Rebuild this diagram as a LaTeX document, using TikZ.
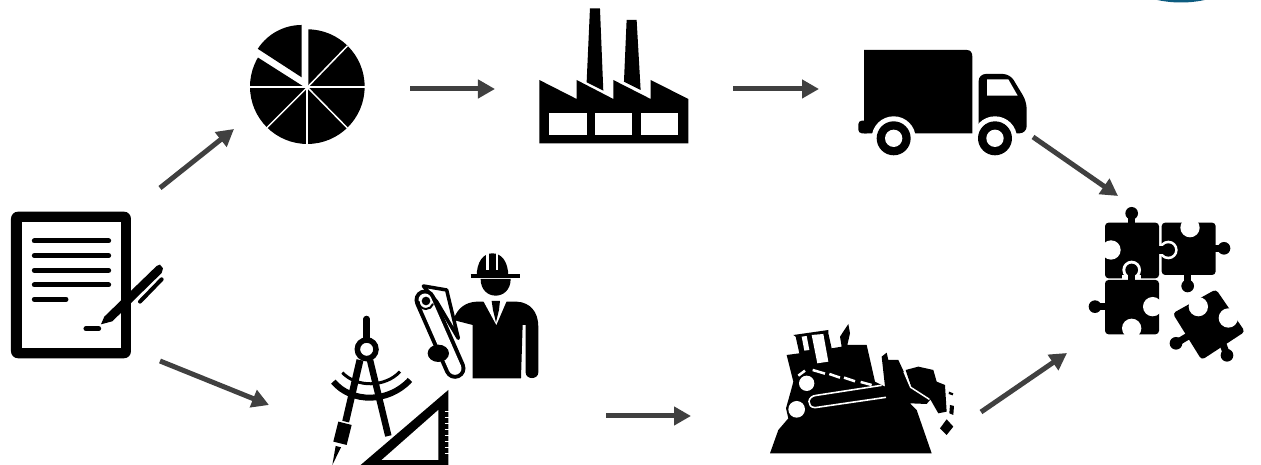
\documentclass[tikz,border=0pt]{standalone}
\usetikzlibrary{arrows.meta}
\definecolor{ArrowClr}{rgb}{0.25,0.25,0.25}
\definecolor{LogoClr}{rgb}{0.05,0.36,0.5}
\tikzset{
  flowarrow/.style={draw=ArrowClr,line width=.05cm,-{Triangle[length=.17cm,width=.18cm]}},
  icon/.style={fill=black},
  cutout/.style={fill=white},
  iconline/.style={draw=black,line cap=round},
  cutline/.style={draw=white},
  piece/.style={fill=black,rounded corners=1pt},
}

\begin{document}
\begin{tikzpicture}[x=.01cm,y=-.01cm]
\clip (0,0) rectangle (1261,465);
\fill[white] (0,0) rectangle (1261,465);

% logo rest at the top
\fill[LogoClr] (1181,-40) ellipse [x radius=70,y radius=42.5];

% document
\begin{scope}[shift={(0,190)},scale=.3333]
\fill[icon,rounded corners=2pt] (33,65) rectangle (393,505);
\fill[cutout] (65,95) rectangle (363,475);
\foreach \y in {153,197,241,285}
  \draw[iconline,line width=.05cm] (103,\y) -- (326,\y);
\draw[iconline,line width=.05cm] (103,328) -- (198,328);
\draw[iconline,line width=.05cm] (258,416) -- (296,416);
\fill[icon] (303,403) -- (313,380) -- (470,228) -- (480,224) -- (489,235) -- (485,249) -- (337,394) -- (318,399) -- cycle;
\draw[iconline,line width=.04cm] (420,335) -- (485,268);
\end{scope}

% pie
\begin{scope}[shift={(230,0)},scale=.3333]
\fill[icon] (232,260) circle [radius=172];
\fill[cutout] (235,262) -- (235,60) -- (30,60) -- (30,138) -- (222,260) -- cycle;
\draw[cutline,line width=.018cm] (55,262) -- (410,262);
\draw[cutline,line width=.018cm] (232,262) -- (232,436);
\foreach \x/\y in {352/138,352/384,110/384}
  \draw[cutline,line width=.015cm] (232,262) -- (\x,\y);
\fill[icon] (215,232) -- (215,75) arc [start angle=-90,end angle=-147,radius=157] -- cycle;
\end{scope}

% factory
\begin{scope}[shift={(230,0)},scale=.3333]
\fill[icon] (928,430) -- (928,240) -- (1040,297) -- (1040,240) -- (1150,297) -- (1150,240) -- (1262,297) -- (1262,240) -- (1375,297) -- (1375,430) -- cycle;
\foreach \x in {958,1095,1232}
  \fill[cutout] (\x,340) rectangle +(112,65);
\fill[icon] (1080,25) -- (1110,25) -- (1120,272) -- (1070,247) -- cycle;
\fill[icon] (1190,60) -- (1220,60) -- (1232,270) -- (1182,245) -- cycle;
\end{scope}

% truck
\begin{scope}[shift={(840,0)},scale=.3333]
\fill[icon] (72,150) -- (380,150) .. controls (392,150) and (397,158) .. (397,170) -- (397,400) -- (72,400) -- cycle;
\fill[icon,rounded corners=1pt] (55,400) rectangle (90,362);
\fill[icon,rounded corners=2pt] (416,222) -- (510,222) -- (560,305) -- (560,400) -- (416,400) -- cycle;
\fill[cutout] (441,238) -- (505,238) -- (533,287) -- (441,287) -- cycle;
\foreach \x in {161,465} {
  \fill[cutout] (\x,415) circle [radius=66];
  \fill[icon] (\x,415) circle [radius=51];
  \fill[cutout] (\x,415) circle [radius=26];
}
\end{scope}

% engineer
\begin{scope}[shift={(320,245)},scale=.3333]
\fill[icon] (470,95) .. controls (470,50) and (490,25) .. (517,25) .. controls (545,25) and (565,50) .. (565,95) -- cycle;
\draw[cutline,line width=.025cm] (503,24) -- (503,76);
\draw[cutline,line width=.025cm] (531,24) -- (531,76);
\draw[draw=black,line width=.04cm] (452,93) -- (600,93);
\fill[icon] (482,102) -- (572,102) .. controls (572,135) and (550,152) .. (527,152) .. controls (504,152) and (482,135) .. (482,102) -- cycle;
\fill[icon] (400,225) .. controls (412,190) and (435,172) .. (470,170) -- (590,170) .. controls (630,172) and (655,200) .. (655,245) -- (655,382) .. controls (655,405) and (617,405) .. (617,382) -- (617,240) -- (608,240) -- (603,400) -- (458,400) -- (458,240) -- cycle;
\fill[cutout] (490,168) -- (560,168) -- (529,240) -- cycle;
\fill[icon] (515,168) -- (540,168) -- (537,195) -- (528,232) -- (519,195) -- cycle;
\draw[cutline,line width=.28cm,line cap=round] (315,165) -- (405,370);
\filldraw[fill=white,draw=black,line width=.035cm,line join=round] (310,123) -- (380,135) -- (415,280) -- (350,170) -- cycle;
\draw[draw=black,line width=.21cm,line cap=round] (315,165) -- (405,370);
\draw[draw=white,line width=.13cm,line cap=round] (315,165) -- (405,370);
\fill[icon] (318,168) circle [radius=13];
\draw[iconline,line width=.02cm] (296,170) arc [start angle=180,end angle=20,radius=22];
\fill[icon] (355,325) ellipse [x radius=32,y radius=26];

\draw[iconline,line width=.065cm] (140,222) -- (140,285);
\draw[draw=black,fill=white,line width=.055cm] (140,313) circle [radius=28];
\draw[draw=black,line width=.06cm] (40,410) .. controls (95,475) and (205,475) .. (270,405);
\draw[draw=black,line width=.03cm] (67,383) .. controls (110,428) and (195,428) .. (240,380);
\draw[draw=black,line width=.07cm] (120,345) -- (77,530);
\draw[draw=black,line width=.065cm] (150,345) -- (205,573);
\fill[icon] (55,530) -- (95,540) -- (80,600) -- (40,590) -- cycle;
\fill[icon] (47,603) -- (63,607) -- (37,660) -- cycle;
\fill[icon] (122,660) -- (385,435) -- (385,660) -- cycle;
\fill[cutout] (185,645) -- (355,495) -- (355,645) -- cycle;
\foreach \y in {500,518,...,640}
  \draw[cutline,line width=.012cm] (374,\y) -- (388,\y);
\end{scope}

% bulldozer
\begin{scope}[shift={(760,320)},scale=.3333]
\fill[icon] (30,400) -- (55,330) -- (85,295) -- (78,265) -- (92,215) -- (100,185) -- (80,105) -- (118,100) -- (107,50) -- (100,45) -- (205,30) -- (205,40) -- (215,85) -- (245,80) -- (240,50) -- (265,12) -- (270,40) -- (262,75) -- (320,75) -- (345,185) -- (375,200) -- (365,110) -- (380,98) -- (385,120) -- (415,120) -- (450,195) -- (510,240) -- (500,252) -- (450,250) -- (470,270) -- (515,400) -- cycle;
\fill[icon] (437,150) -- (475,140) -- (520,150) -- (530,185) -- (555,195) -- (560,275) -- (535,280) -- (512,240) -- (455,205) -- cycle;
\fill[cutout] (125,50) -- (140,48) -- (148,90) -- (133,92) -- cycle;
\fill[cutout] (155,45) -- (190,42) -- (205,125) -- (172,130) -- cycle;
\foreach \a/\b/\c/\d in {115/167/135/152,158/150/195/161,208/162/240/173,252/173/285/184,302/186/335/195}
  \draw[cutline,line width=.025cm] (\a,\b) -- (\c,\d);
\fill[cutout] (140,190) circle [radius=23];
\fill[cutout] (110,268) circle [radius=25];
\draw[cutline,line width=.016cm,line join=round] (378,232) -- (165,263) .. controls (140,262) and (140,228) .. (170,226) -- (365,196);
\draw[cutline,line width=.015cm,line join=round] (432,155) -- (452,202) -- (508,238);
\fill[icon] (567,215) -- (580,220) -- (578,226) -- (566,222) -- cycle;
\fill[icon] (570,255) -- (582,258) -- (580,285) -- (568,280) -- cycle;
\fill[icon] (560,298) -- (580,320) -- (560,345) -- (540,325) -- cycle;
\end{scope}

% puzzle
\begin{scope}[shift={(1080,200)},scale=.3333]
\fill[piece] (245,68) rectangle (407,225);
\fill[cutout] (330,83) circle [radius=29];
\fill[icon] (432,145) circle [radius=19];
\fill[icon] (400,134) rectangle (420,156);
\fill[icon] (323,258) circle [radius=19];
\fill[icon] (312,220) rectangle (334,245);

\fill[cutout] (265,150) circle [radius=28];
\fill[piece] (75,68) rectangle (237,235);
\fill[icon] (265,150) circle [radius=20];
\fill[icon] (230,139) rectangle (255,161);
\fill[icon] (155,40) circle [radius=19];
\fill[icon] (144,50) rectangle (166,72);
\fill[cutout] (93,150) circle [radius=29];

\fill[cutout] (155,210) circle [radius=28];
\fill[cutout] (127,225) rectangle (183,240);
\fill[piece] (75,240) rectangle (237,403);
\fill[icon] (155,210) circle [radius=19];
\fill[icon] (144,215) rectangle (166,245);
\fill[icon] (45,320) circle [radius=19];
\fill[icon] (55,309) rectangle (80,331);
\fill[cutout] (218,320) circle [radius=29];
\fill[cutout] (155,385) circle [radius=29];

\fill[piece] (278,340) -- (408,268) -- (495,395) -- (365,480) -- cycle;
\fill[cutout] (355,320) circle [radius=29];
\fill[cutout] (445,354) circle [radius=29];
\fill[icon] (288,430) circle [radius=19];
\draw[draw=black,line width=.07cm] (330,405) -- (288,430);
\fill[icon] (441,466) circle [radius=19];
\draw[draw=black,line width=.07cm] (428,430) -- (441,466);
\end{scope}

% arrows
\coordinate (DocUp) at (160,188);
\coordinate (PieIn) at (234,129);
\coordinate (PieOut) at (410,89);
\coordinate (FactoryIn) at (495,89);
\coordinate (FactoryOut) at (733,89);
\coordinate (TruckIn) at (819,89);
\coordinate (TruckOut) at (1033,137);
\coordinate (PuzzleUp) at (1118,196);
\coordinate (DocDown) at (160,361);
\coordinate (PlanIn) at (269,405);
\coordinate (PlanOut) at (606,416);
\coordinate (DozerIn) at (691,416);
\coordinate (DozerOut) at (981,412);
\coordinate (PuzzleDown) at (1067,353);

\draw[flowarrow] (DocUp) -- (PieIn);
\draw[flowarrow] (PieOut) -- (FactoryIn);
\draw[flowarrow] (FactoryOut) -- (TruckIn);
\draw[flowarrow] (TruckOut) -- (PuzzleUp);
\draw[flowarrow] (DocDown) -- (PlanIn);
\draw[flowarrow] (PlanOut) -- (DozerIn);
\draw[flowarrow] (DozerOut) -- (PuzzleDown);

\end{tikzpicture}
\end{document}
